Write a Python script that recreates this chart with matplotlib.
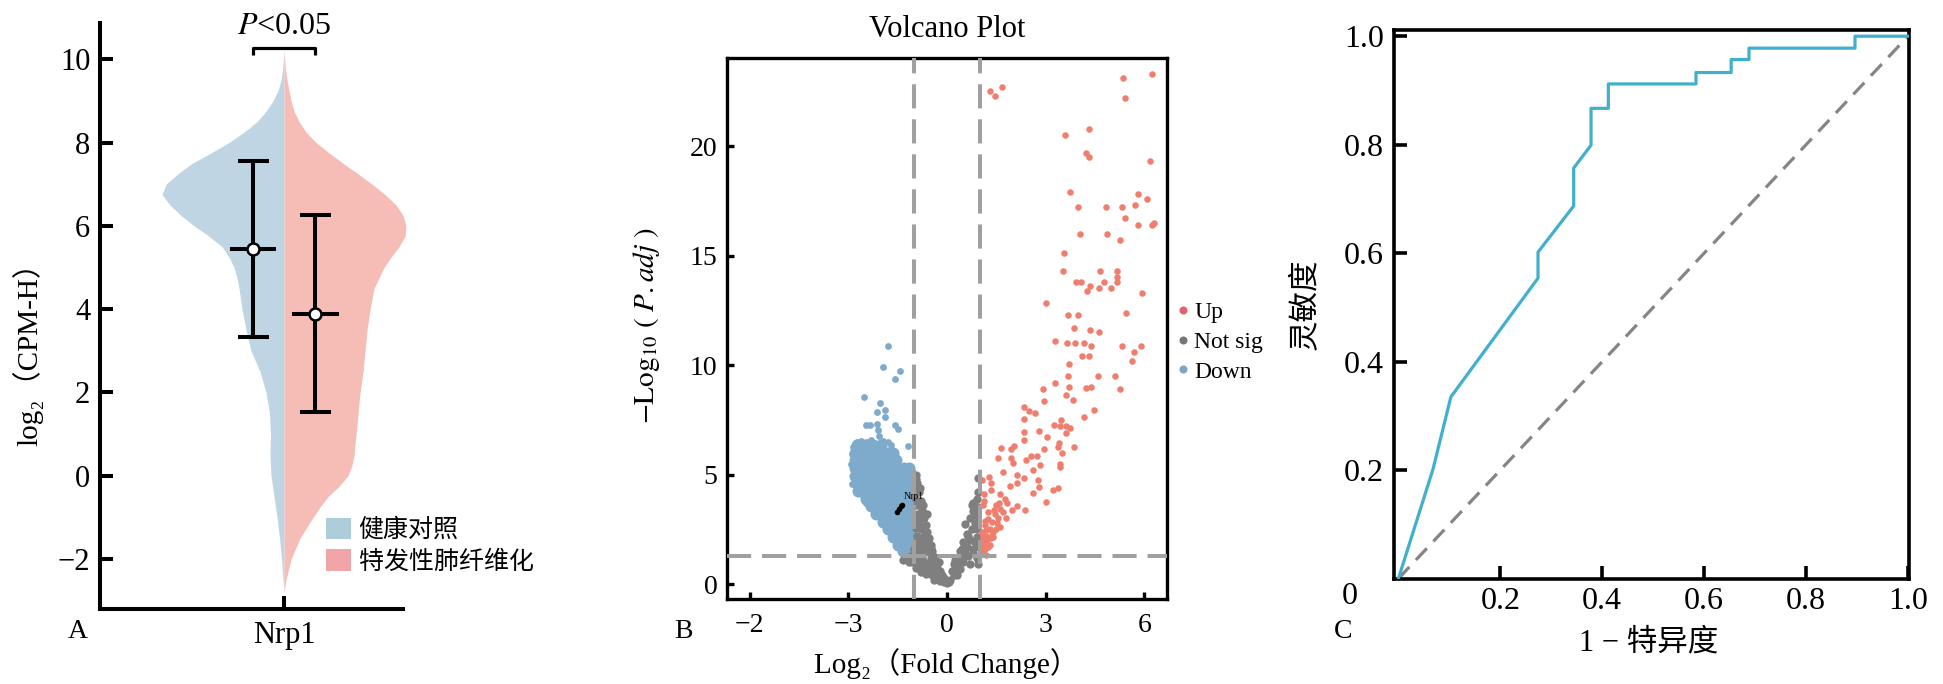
import numpy as np
import matplotlib
matplotlib.use('Agg')
import matplotlib.pyplot as plt
from matplotlib.lines import Line2D
from matplotlib.patches import Patch

plt.rcParams['font.family'] = ['Liberation Serif', 'DejaVu Serif', 'Noto Sans CJK SC']
plt.rcParams['mathtext.fontset'] = 'stix'

# ---------------- panel A data (split violin, half widths in px) ----------------
violin_y = [-2.8, -2.5, -2.0, -1.5, -1.0, -0.75, -0.5, -0.25, 0.0, 0.25, 0.5, 1.0, 1.5, 2.0,
            2.5, 3.0, 3.5, 4.0, 4.5, 4.75, 5.0, 5.25, 5.5, 5.75, 6.0, 6.25, 6.5, 6.75, 7.0,
            7.25, 7.5, 7.75, 8.0, 8.25, 8.5, 8.75, 9.0, 9.25, 9.5, 9.75, 10.2]
ctrl_width = [0, 1, 2.5, 4.5, 7, 8.5, 10, 11.5, 13, 13.5, 14, 13.5, 14.5, 18,
              24, 33, 38, 42, 45, 47, 50, 55, 62, 75, 90, 103, 114, 122, 118,
              106, 92, 73, 55, 40, 27, 18, 11, 6, 3, 1.5, 0]
ipf_width = [0, 2, 7, 16, 29, 36, 44, 55, 64, 68, 70, 72, 74, 76,
             79, 81, 83, 86, 90, 95, 100, 107, 115, 121, 122, 119, 112, 101, 88,
             74, 59, 45, 32, 22, 15, 10, 7, 5, 3, 1.5, 0]
group_names = ['健康对照', '特发性肺纤维化']
group_mean = [5.45, 3.89]
group_upper = [7.55, 6.27]
group_lower = [3.34, 1.52]
gene_name = 'Nrp1'

# ---------------- panel B data (volcano) ----------------
up_x = [1.32, 1.45, 1.66, 5.36, 6.24, 5.41, 4.31, 3.60, 4.22, 4.31, 6.16, 3.75, 5.80, 6.07,
        3.99, 4.82, 5.31, 5.71, 5.40, 5.81, 6.23, 6.30, 4.03, 4.88, 5.26, 3.56, 3.54, 4.65,
        5.18, 3.91, 4.07, 4.76, 5.18, 5.18, 4.35, 4.25, 4.61, 4.99, 5.94,
        3.01, 3.67, 3.99, 5.43, 3.86, 4.35, 4.62, 3.28, 3.66, 3.90, 4.16, 4.37, 5.33, 5.89,
        5.70, 4.10, 4.31, 5.62, 3.71, 3.67, 4.59, 5.11, 3.28, 2.93, 3.72, 4.22, 4.37, 5.27,
        3.62, 2.95, 3.82, 2.35, 2.49, 2.67, 4.47, 4.17, 2.34, 3.46, 3.24, 3.43, 3.62, 3.74,
        2.80, 2.35, 3.62, 2.35, 3.05, 3.42, 3.38, 3.85, 1.63, 1.94, 2.05, 2.95, 3.50, 1.56,
        1.94, 2.00, 2.39, 2.54, 2.73, 2.84, 3.43, 3.43, 1.70, 2.60, 1.29, 2.14, 2.33, 1.06,
        1.34, 2.76, 1.91, 2.14, 2.81, 1.33, 3.21, 3.38, 1.12, 1.62, 2.60, 1.14, 1.76, 3.01,
        1.49, 1.59, 1.81, 2.12, 1.97, 2.38, 1.43, 1.61, 1.71, 1.24, 1.36, 1.51, 1.61, 1.79,
        1.15, 1.20, 1.36, 1.41, 1.09, 1.21, 1.12, 1.15, 1.09, 1.05, 1.10, 1.20, 1.30, 1.15,
        1.25, 1.45, 1.40, 1.55, 1.05, 1.30, 1.10, 1.25, 1.35, 1.50, 1.18]
up_y = [22.5, 22.3, 22.7, 23.1, 23.3, 22.2, 20.8, 20.5, 19.7, 19.5, 19.3, 17.9, 17.8, 17.6,
        17.2, 17.2, 17.2, 17.3, 16.7, 16.4, 16.4, 16.5, 16.0, 16.0, 15.7, 15.1, 14.3, 14.3,
        14.3, 13.8, 13.8, 13.8, 14.0, 13.8, 13.6, 13.4, 13.5, 13.5, 13.3,
        12.85, 12.3, 12.3, 12.4, 11.7, 11.6, 11.5, 11.1, 11.0, 11.0, 11.0, 10.85, 10.85, 10.85,
        10.6, 10.4, 10.4, 10.2, 10.05, 9.5, 9.5, 9.5, 9.2, 8.9, 9.0, 8.95, 9.0, 8.9,
        8.65, 8.35, 8.4, 8.1, 7.9, 7.8, 7.95, 7.65, 7.55, 7.5, 7.25, 7.2, 7.2, 7.15,
        7.0, 6.95, 6.9, 6.6, 6.7, 6.45, 6.25, 6.25, 6.2, 6.15, 6.3, 6.15, 6.0, 5.75,
        5.75, 5.55, 5.65, 5.85, 5.85, 5.45, 5.5, 5.35, 5.1, 5.2, 4.9, 5.0, 4.85, 4.75,
        4.6, 4.75, 4.5, 4.6, 4.45, 4.3, 4.3, 4.4, 4.1, 4.1, 4.15, 3.8, 3.9, 3.75,
        3.6, 3.7, 3.7, 3.55, 3.4, 3.4, 3.4, 3.45, 3.3, 2.95, 2.85, 2.77, 2.62, 3.0,
        2.7, 2.45, 2.25, 2.15, 2.15, 2.0, 1.8, 1.6, 1.4, 1.5, 1.9, 2.2, 2.5, 2.9,
        3.3, 3.2, 2.4, 3.0, 2.4, 1.8, 3.6, 1.7, 2.1, 2.5, 1.35]

down_x = [-1.80, -1.95, -1.43, -1.57, -2.52, -2.04, -2.12, -1.88, -1.88, -1.57, -1.49,
          -2.47, -2.34, -2.14, -2.11, -2.07, -1.18, -2.73, -2.67, -2.85, -2.79, -2.42, -1.78,
          -2.92, -2.88, -2.62, -2.45, -2.20, -1.90, -1.62, -1.45, -1.30, -1.12, -1.05,
          -2.60, -2.30, -1.95, -1.70, -2.90, -2.85]
down_y = [10.87, 9.92, 9.74, 9.36, 8.54, 8.25, 7.87, 7.95, 7.64, 7.25, 7.06,
          7.28, 7.28, 7.31, 7.03, 6.77, 6.30, 6.50, 6.42, 6.27, 6.04, 6.48, 6.50,
          5.50, 4.55, 4.10, 3.70, 3.25, 2.75, 2.20, 1.75, 1.45, 5.20, 1.40,
          6.55, 6.60, 6.55, 6.35, 5.95, 4.95]
# dense core of the down-regulated cloud
core_x = [-2.75, -2.5, -2.25, -2.0,
          -2.8, -2.55, -2.3, -2.05, -1.8, -1.65,
          -2.8, -2.55, -2.3, -2.05, -1.8, -1.55,
          -2.8, -2.55, -2.3, -2.05, -1.8, -1.55, -1.3, -1.15,
          -2.8, -2.55, -2.3, -2.05, -1.8, -1.55, -1.3, -1.1,
          -2.75, -2.5, -2.25, -2.0, -1.75, -1.5, -1.25, -1.1,
          -2.7, -2.45, -2.2, -1.95, -1.7, -1.45, -1.2, -1.1,
          -2.45, -2.2, -1.95, -1.7, -1.45, -1.2, -1.1,
          -2.3, -2.05, -1.8, -1.55, -1.3, -1.1,
          -2.15, -1.9, -1.65, -1.4, -1.15,
          -1.95, -1.7, -1.45, -1.2, -1.1,
          -1.8, -1.55, -1.3, -1.1,
          -1.65, -1.4, -1.15,
          -1.5, -1.25, -1.1,
          -1.35, -1.15]
core_y = [6.35, 6.35, 6.35, 6.35,
          6.0, 6.0, 6.0, 6.0, 6.0, 6.0,
          5.65, 5.65, 5.65, 5.65, 5.65, 5.65,
          5.3, 5.3, 5.3, 5.3, 5.3, 5.3, 5.3, 5.3,
          4.95, 4.95, 4.95, 4.95, 4.95, 4.95, 4.95, 4.95,
          4.6, 4.6, 4.6, 4.6, 4.6, 4.6, 4.6, 4.6,
          4.25, 4.25, 4.25, 4.25, 4.25, 4.25, 4.25, 4.25,
          3.9, 3.9, 3.9, 3.9, 3.9, 3.9, 3.9,
          3.55, 3.55, 3.55, 3.55, 3.55, 3.55,
          3.2, 3.2, 3.2, 3.2, 3.2,
          2.85, 2.85, 2.85, 2.85, 2.85,
          2.5, 2.5, 2.5, 2.5,
          2.15, 2.15, 2.15,
          1.8, 1.8, 1.8,
          1.5, 1.5]

ns_x = [-0.95, -0.90, -0.85, -0.92, -0.80, -0.90, -0.75, -0.88, -0.70, -0.85, -0.65, -0.80,
        -0.60, -0.90, -0.75, -0.55, -0.95, -0.70, -0.50, -1.00, -0.85, -0.60, -0.45, -1.10,
        -0.95, -0.75, -0.50, -0.35, -1.25, -1.05, -0.85, -0.60, -0.35, -0.25, -0.95, -0.75,
        -0.55, -0.35, -0.20, -0.65, -0.45, -0.25, -0.10, -0.40, -0.20, 0.00, -0.10, -1.35,
        -0.95, -0.82, -0.97, -0.72, -0.93, -0.62, -0.83, -0.68, -0.93, -0.78, -0.58, -0.48,
        -0.88, -0.68, -0.40, -1.15, -0.80, -0.55, -0.30, -0.15, -0.05, -0.30, -0.50, -0.70,
        0.10, 0.20, 0.15, 0.30, 0.35, 0.25, 0.45, 0.40, 0.55, 0.60, 0.50, 0.70, 0.90, 0.60,
        0.75, 0.55, 0.85, 0.70, 0.90, 0.80, 0.95, 0.75, 0.92, 0.95, 0.80, 0.30, 0.50, 0.65,
        0.80, 0.90, 0.95, 0.85, 0.95, 0.05, 0.40, 0.70, 0.85, 0.65, 0.92, 0.20, 0.45, 0.80,
        0.97, 0.88]
ns_y = [5.00, 4.60, 4.20, 4.30, 3.80, 3.60, 3.40, 3.20, 3.00, 2.80, 2.70, 2.50,
        2.40, 2.20, 2.10, 2.10, 1.90, 1.80, 1.80, 1.60, 1.50, 1.50, 1.50, 1.30,
        1.25, 1.20, 1.20, 1.25, 1.15, 1.00, 0.95, 0.90, 0.90, 1.00, 0.75, 0.70,
        0.60, 0.60, 0.60, 0.45, 0.40, 0.35, 0.30, 0.20, 0.15, 0.05, 0.10, 1.10,
        4.80, 4.40, 3.95, 3.60, 3.00, 3.20, 3.05, 2.30, 2.55, 1.95, 2.00, 1.65,
        1.80, 1.45, 1.05, 1.00, 0.55, 0.80, 0.45, 0.40, 0.15, 0.75, 0.95, 1.00,
        0.20, 0.40, 0.60, 0.70, 1.00, 1.10, 1.20, 1.50, 1.45, 1.70, 1.90, 2.00, 2.15, 2.30,
        2.50, 2.75, 2.80, 3.00, 3.10, 3.35, 3.50, 3.60, 3.90, 4.85, 3.70, 0.40, 1.00, 1.30,
        1.60, 1.20, 0.90, 2.60, 4.20, 0.10, 0.70, 0.90, 1.90, 2.20, 2.50, 0.90, 1.60, 1.40,
        1.70, 3.30]

nrp1_x = [-1.53, -1.47, -1.41, -1.37]
nrp1_y = [3.30, 3.42, 3.55, 3.62]

fc_cut = 1.0
p_cut = 1.3

# ---------------- panel C data (ROC) ----------------
roc_fpr = [0, 0.068, 0.103, 0.274, 0.274, 0.344, 0.344, 0.378, 0.378, 0.412, 0.412,
           0.584, 0.584, 0.653, 0.653, 0.688, 0.688, 0.896, 0.896, 1.0]
roc_tpr = [0, 0.202, 0.335, 0.554, 0.602, 0.687, 0.757, 0.799, 0.867, 0.867, 0.912,
           0.912, 0.933, 0.933, 0.957, 0.957, 0.978, 0.978, 1.0, 1.0]

W, H = 1943, 684
fig = plt.figure(figsize=(W / 100, H / 100), dpi=100)


def px_axes(left, top, right, bottom):
    return fig.add_axes([left / W, 1 - bottom / H, (right - left) / W, (bottom - top) / H])


# ================= A =================
axA = px_axes(100, 23, 403, 609)
wscale = 1 / 122
axA.fill_betweenx(violin_y, -np.array(ctrl_width) * wscale, 0, color='#bfd5e3', lw=0, clip_on=False)
axA.fill_betweenx(violin_y, 0, np.array(ipf_width) * wscale, color='#f6bdb7', lw=0, clip_on=False)

bar_kw = dict(color='k', lw=2.9, solid_capstyle='butt', zorder=4)
for xpos, m, lo, hi in zip([-0.252, 0.257], group_mean, group_lower, group_upper):
    axA.plot([xpos, xpos], [lo, hi], **bar_kw)
    axA.plot([xpos - 0.126, xpos + 0.126], [hi, hi], **bar_kw)
    axA.plot([xpos - 0.126, xpos + 0.126], [lo, lo], **bar_kw)
    axA.plot([xpos - 0.19, xpos + 0.19], [m, m], **bar_kw)
    axA.plot(xpos, m, 'o', ms=8.6, mfc='white', mec='k', mew=1.8, zorder=5)

# significance bracket
axA.plot([-0.254, -0.254, 0.254, 0.254], [10.1, 10.27, 10.27, 10.1], color='k', lw=2.3,
         clip_on=False, solid_capstyle='butt')
axA.text(0, 10.6, r'$\it{P}$<0.05', ha='center', va='baseline', fontsize=23)

axA.set_xlim(-1.508, 0.975)
axA.set_ylim(-3.2, 10.87)
axA.set_yticks([-2, 0, 2, 4, 6, 8, 10])
axA.set_xticks([0])
axA.set_xticklabels([gene_name])
axA.tick_params(axis='y', direction='in', length=9.6, width=2.9, labelsize=22, pad=7)
axA.tick_params(axis='x', direction='in', length=9.5, width=2.9, labelsize=22, pad=9)
for s in ['top', 'right']:
    axA.spines[s].set_visible(False)
for s in ['left', 'bottom']:
    axA.spines[s].set_linewidth(2.9)
axA.set_ylabel('log₂（CPM-H）', fontsize=21)
axA.yaxis.set_label_coords(-0.188, 0.447)

axA.legend(handles=[Patch(facecolor='#adcddb', edgecolor='none'),
                    Patch(facecolor='#f0a5a8', edgecolor='none')],
           labels=group_names, loc='upper left', bbox_to_anchor=(0.746, 0.156),
           frameon=False, fontsize=18, handlelength=1.0, handleheight=0.95,
           handletextpad=0.3, labelspacing=0.3, borderpad=0, borderaxespad=0)
fig.text(78 / W, 1 - 631 / H, 'A', fontsize=20, ha='center', va='center')

# ================= B =================
axB = px_axes(727, 58, 1167, 599)
axB.scatter(core_x, core_y, s=75, color='#7eaacb', lw=0, zorder=2)
axB.scatter(down_x, down_y, s=24, color='#7eaacb', lw=0, zorder=2)
axB.scatter(ns_x, ns_y, s=36, color='#7f7f7f', lw=0, zorder=2)
axB.scatter(up_x, up_y, s=22, color='#f07e6e', lw=0, zorder=2)
axB.scatter(nrp1_x, nrp1_y, s=16, color='k', lw=0, zorder=4)
axB.text(-1.32, 3.9, gene_name, fontsize=7, zorder=4)

dash_kw = dict(color='#a0a0a0', lw=2.9, dashes=(6.0, 2.7), zorder=3)
axB.axvline(-fc_cut, **dash_kw)
axB.axvline(fc_cut, **dash_kw)
axB.axhline(p_cut, **dash_kw)

axB.set_xlim(-6.69, 6.69)
axB.set_ylim(-0.68, 24.02)
axB.set_xticks([-6, -3, 0, 3, 6])
axB.set_xticklabels(['−2', '−3', '0', '3', '6'])
axB.set_yticks([0, 5, 10, 15, 20])
axB.tick_params(direction='in', length=5, width=2.4, labelsize=20)
axB.tick_params(axis='y', pad=7)
axB.tick_params(axis='x', pad=10)
for s in axB.spines.values():
    s.set_linewidth(2.4)
axB.set_xlabel('Log₂（Fold Change）', fontsize=21)
axB.xaxis.set_label_coords(0.5, -0.0906)
axB.set_ylabel(r'$-\mathrm{Log}_{10}\ (\ \mathit{P.adj}\ )$', fontsize=21)
axB.yaxis.set_label_coords(-0.148, 0.505)
axB.text(0.5, 1.052, 'Volcano Plot', transform=axB.transAxes, ha='center', va='center', fontsize=22)

legB_handles = [Line2D([], [], ls='none', marker='o', ms=5.8, color=c, mec='none')
                for c in ['#e0656b', '#76767e', '#79a6c8']]
axB.legend(handles=legB_handles, labels=['Up', 'Not sig', 'Down'], loc='upper left',
           bbox_to_anchor=(1.0216, 0.55), frameon=False, fontsize=17, handlelength=0.55,
           handletextpad=0.2, labelspacing=0.35, borderpad=0, borderaxespad=0)
fig.text(683 / W, 1 - 631 / H, 'B', fontsize=20, ha='center', va='center')

# ================= C =================
axC = px_axes(1393.6, 29.7, 1908.5, 578.6)
axC.plot(roc_fpr, roc_tpr, color='#40b0cc', lw=2.3, zorder=3)
axC.plot([0, 1], [0, 1], color='#858585', lw=2.3, dashes=(5, 3), zorder=2)
axC.set_xlim(-0.0094, 1.001)
axC.set_ylim(0, 1.012)
axC.set_xticks([0.2, 0.4, 0.6, 0.8, 1.0])
axC.set_xticklabels(['0.2', '0.4', '0.6', '0.8', '1.0'])
axC.set_yticks([0.2, 0.4, 0.6, 0.8, 1.0])
axC.set_yticklabels(['0.2', '0.4', '0.6', '0.8', '1.0'])
axC.tick_params(direction='in', length=9.6, width=2.6, labelsize=23)
axC.tick_params(axis='y', pad=7)
axC.tick_params(axis='x', pad=6)
for s in axC.spines.values():
    s.set_linewidth(2.6)
axC.text(-0.095, -0.033, '0', fontsize=23, ha='center', va='center')
axC.set_ylabel('灵敏度', fontsize=22)
axC.yaxis.set_label_coords(-0.141, 0.5)
axC.set_xlabel('1 − 特异度', fontsize=22)
axC.xaxis.set_label_coords(0.495, -0.09)
fig.text(1343 / W, 1 - 631 / H, 'C', fontsize=20, ha='center', va='center')

fig.savefig('out.png', dpi=100)
